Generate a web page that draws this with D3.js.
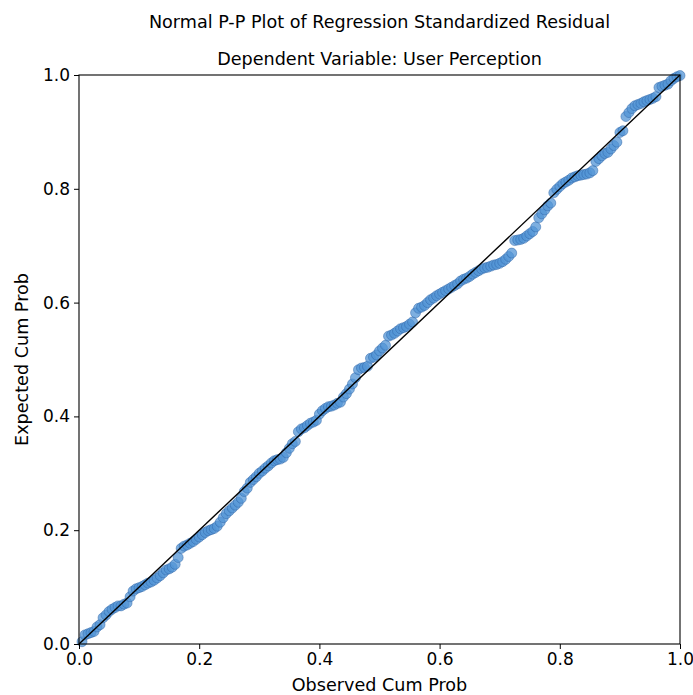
<!DOCTYPE html>
<html>
<head>
<meta charset="UTF-8">
<title>Normal P-P Plot</title>
<script src="https://cdnjs.cloudflare.com/ajax/libs/d3/7.8.5/d3.min.js"></script>
<style>
body { margin: 0; background: #fff; }
svg text { font-family: "DejaVu Sans", sans-serif; fill: #000; }
.tick text { font-size: 17px; }
</style>
</head>
<body>
<div id="chart"></div>
<script>
/*global d3*/

var titleText = "Normal P-P Plot of Regression Standardized Residual";
var subtitleText = "Dependent Variable: User Perception";
var xLabel = "Observed Cum Prob";
var yLabel = "Expected Cum Prob";
var tickValues = [0.0, 0.2, 0.4, 0.6, 0.8, 1.0];

// observed cumulative probability (rank / n)
var observed = [
  0.005, 0.010, 0.015, 0.020, 0.025, 0.030, 0.035, 0.040, 0.045, 0.050,
  0.055, 0.060, 0.065, 0.070, 0.075, 0.080, 0.085, 0.090, 0.095, 0.100,
  0.105, 0.110, 0.115, 0.120, 0.125, 0.130, 0.135, 0.140, 0.145, 0.150,
  0.155, 0.160, 0.165, 0.170, 0.175, 0.180, 0.185, 0.190, 0.195, 0.200,
  0.205, 0.210, 0.215, 0.220, 0.225, 0.230, 0.235, 0.240, 0.245, 0.250,
  0.255, 0.260, 0.265, 0.270, 0.275, 0.280, 0.285, 0.290, 0.295, 0.300,
  0.305, 0.310, 0.315, 0.320, 0.325, 0.330, 0.335, 0.340, 0.345, 0.350,
  0.355, 0.360, 0.365, 0.370, 0.375, 0.380, 0.385, 0.390, 0.395, 0.400,
  0.405, 0.410, 0.415, 0.420, 0.425, 0.430, 0.435, 0.440, 0.445, 0.450,
  0.455, 0.460, 0.465, 0.470, 0.475, 0.480, 0.485, 0.490, 0.495, 0.500,
  0.505, 0.510, 0.515, 0.520, 0.525, 0.530, 0.535, 0.540, 0.545, 0.550,
  0.555, 0.560, 0.565, 0.570, 0.575, 0.580, 0.585, 0.590, 0.595, 0.600,
  0.605, 0.610, 0.615, 0.620, 0.625, 0.630, 0.635, 0.640, 0.645, 0.650,
  0.655, 0.660, 0.665, 0.670, 0.675, 0.680, 0.685, 0.690, 0.695, 0.700,
  0.705, 0.710, 0.715, 0.720, 0.725, 0.730, 0.735, 0.740, 0.745, 0.750,
  0.755, 0.760, 0.765, 0.770, 0.775, 0.780, 0.785, 0.790, 0.795, 0.800,
  0.805, 0.810, 0.815, 0.820, 0.825, 0.830, 0.835, 0.840, 0.845, 0.850,
  0.855, 0.860, 0.865, 0.870, 0.875, 0.880, 0.885, 0.890, 0.895, 0.900,
  0.905, 0.910, 0.915, 0.920, 0.925, 0.930, 0.935, 0.940, 0.945, 0.950,
  0.955, 0.960, 0.965, 0.970, 0.975, 0.980, 0.985, 0.990, 0.995, 1.000
];

// expected cumulative probability (normal cdf of residual)
var expected = [
  0.004, 0.016, 0.018, 0.020, 0.022, 0.030, 0.034, 0.046, 0.051, 0.057,
  0.061, 0.064, 0.067, 0.067, 0.070, 0.072, 0.083, 0.093, 0.097, 0.099,
  0.101, 0.104, 0.107, 0.109, 0.112, 0.116, 0.120, 0.125, 0.130, 0.132,
  0.135, 0.140, 0.152, 0.168, 0.172, 0.174, 0.177, 0.180, 0.184, 0.188,
  0.192, 0.196, 0.199, 0.201, 0.203, 0.207, 0.214, 0.222, 0.229, 0.234,
  0.239, 0.244, 0.249, 0.256, 0.268, 0.274, 0.284, 0.289, 0.294, 0.300,
  0.304, 0.309, 0.313, 0.318, 0.322, 0.324, 0.325, 0.328, 0.336, 0.344,
  0.352, 0.356, 0.373, 0.378, 0.380, 0.384, 0.388, 0.390, 0.393, 0.404,
  0.410, 0.414, 0.417, 0.418, 0.420, 0.423, 0.425, 0.434, 0.440, 0.448,
  0.457, 0.468, 0.482, 0.485, 0.486, 0.488, 0.502, 0.504, 0.508, 0.515,
  0.520, 0.525, 0.541, 0.543, 0.546, 0.550, 0.554, 0.556, 0.558, 0.562,
  0.566, 0.582, 0.590, 0.592, 0.595, 0.600, 0.605, 0.608, 0.612, 0.615,
  0.618, 0.621, 0.624, 0.627, 0.630, 0.633, 0.638, 0.641, 0.643, 0.646,
  0.650, 0.653, 0.656, 0.659, 0.661, 0.662, 0.664, 0.666, 0.667, 0.669,
  0.672, 0.676, 0.681, 0.687, 0.709, 0.710, 0.711, 0.713, 0.717, 0.721,
  0.725, 0.733, 0.749, 0.756, 0.763, 0.770, 0.775, 0.793, 0.799, 0.804,
  0.809, 0.812, 0.815, 0.819, 0.821, 0.823, 0.824, 0.825, 0.826, 0.828,
  0.832, 0.848, 0.853, 0.858, 0.862, 0.864, 0.870, 0.876, 0.882, 0.899,
  0.902, 0.927, 0.934, 0.941, 0.946, 0.948, 0.950, 0.953, 0.955, 0.957,
  0.959, 0.962, 0.978, 0.980, 0.982, 0.984, 0.990, 0.994, 0.997, 0.999
];

var refLine = [0, 1];

var width = 693, height = 695;
var margin = {left: 79, right: 13, top: 75, bottom: 51};

var svg = d3.select("#chart").append("svg")
  .attr("width", width)
  .attr("height", height);

var x = d3.scaleLinear().domain([0, 1]).range([margin.left, width - margin.right]);
var y = d3.scaleLinear().domain([0, 1]).range([height - margin.bottom, margin.top]);

var cx = (margin.left + width - margin.right) / 2;

// titles
svg.append("text")
  .attr("x", cx)
  .attr("y", 28)
  .attr("text-anchor", "middle")
  .style("font-size", "17.6px")
  .text(titleText);

svg.append("text")
  .attr("x", cx)
  .attr("y", 65)
  .attr("text-anchor", "middle")
  .style("font-size", "17.6px")
  .text(subtitleText);

// points
var pts = observed.map(function(d, i) { return [d, expected[i]]; });

svg.append("g")
  .selectAll("circle")
  .data(pts)
  .enter()
  .append("circle")
  .attr("cx", function(d) { return x(d[0]); })
  .attr("cy", function(d) { return y(d[1]); })
  .attr("r", 5)
  .attr("fill", "#5294d6")
  .attr("fill-opacity", 0.75)
  .attr("stroke", "#2c64a6")
  .attr("stroke-opacity", 0.6)
  .attr("stroke-width", 0.8);

// reference line
svg.append("line")
  .attr("x1", x(refLine[0])).attr("y1", y(refLine[0]))
  .attr("x2", x(refLine[1])).attr("y2", y(refLine[1]))
  .attr("stroke", "#000")
  .attr("stroke-width", 1.4);

// axes
var xAxis = svg.append("g")
  .attr("transform", "translate(0," + (height - margin.bottom) + ")")
  .call(d3.axisBottom(x).tickValues(tickValues).tickFormat(d3.format(".1f")).tickSize(5).tickPadding(4));
var yAxis = svg.append("g")
  .attr("transform", "translate(" + margin.left + ",0)")
  .call(d3.axisLeft(y).tickValues(tickValues).tickFormat(d3.format(".1f")).tickSize(5).tickPadding(4));
xAxis.select(".domain").remove();
yAxis.select(".domain").remove();
svg.selectAll(".tick line").attr("stroke", "#000").attr("stroke-width", 1);

// frame
svg.append("rect")
  .attr("x", margin.left)
  .attr("y", margin.top)
  .attr("width", width - margin.right - margin.left)
  .attr("height", height - margin.bottom - margin.top)
  .attr("fill", "none")
  .attr("stroke", "#000")
  .attr("stroke-width", 1.1);

// axis labels
svg.append("text")
  .attr("x", cx)
  .attr("y", 691)
  .attr("text-anchor", "middle")
  .style("font-size", "17.6px")
  .text(xLabel);

svg.append("text")
  .attr("transform", "translate(28," + ((margin.top + height - margin.bottom) / 2) + ") rotate(-90)")
  .attr("text-anchor", "middle")
  .style("font-size", "17.6px")
  .text(yLabel);
</script>
</body>
</html>
